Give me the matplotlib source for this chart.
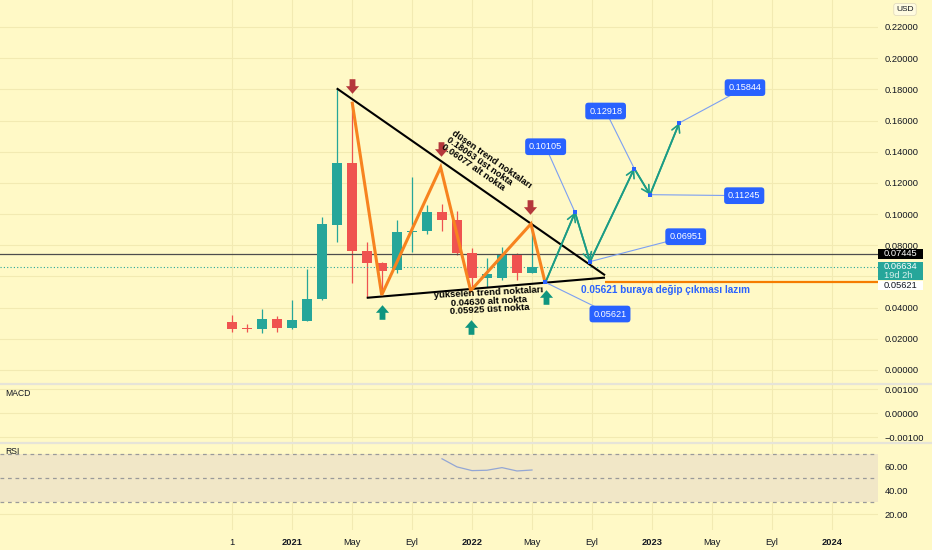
import matplotlib
matplotlib.use('Agg')
import matplotlib.pyplot as plt
import matplotlib.transforms as mtransforms
from matplotlib.path import Path
from matplotlib.lines import Line2D
from matplotlib.patches import Rectangle
import numpy as np

plt.rcParams['font.family'] = ['Liberation Sans', 'DejaVu Sans']

# ---------------- data ----------------
months = ['2020-09', '2020-10', '2020-11', '2020-12', '2021-01', '2021-02', '2021-03',
          '2021-04', '2021-05', '2021-06', '2021-07', '2021-08', '2021-09', '2021-10',
          '2021-11', '2021-12', '2022-01', '2022-02', '2022-03', '2022-04', '2022-05']
opens = [0.0306, 0.0268, 0.0261, 0.0327, 0.0267, 0.0317, 0.0454, 0.0930, 0.1326, 0.0765, 0.0684,
         0.0641, 0.0887, 0.0889, 0.1015, 0.0962, 0.0748, 0.0588, 0.0588, 0.0738, 0.0624]
highs = [0.0353, 0.0295, 0.0393, 0.0346, 0.0449, 0.0648, 0.0983, 0.1806, 0.1711, 0.0823, 0.0692,
         0.0962, 0.1240, 0.1058, 0.1065, 0.1020, 0.0780, 0.0717, 0.0787, 0.0748, 0.0936]
lows = [0.0244, 0.0244, 0.0237, 0.0244, 0.0265, 0.0316, 0.0449, 0.0823, 0.0560, 0.0466, 0.0500,
        0.0624, 0.0759, 0.0872, 0.0893, 0.0738, 0.0520, 0.0534, 0.0580, 0.0577, 0.0620]
closes = [0.0263, 0.0265, 0.0325, 0.0267, 0.0318, 0.0455, 0.0935, 0.1326, 0.0765, 0.0684, 0.0637,
          0.0887, 0.0893, 0.1012, 0.0962, 0.0752, 0.0588, 0.0616, 0.0738, 0.0620, 0.06634]

rsi_months = ['2021-11', '2021-12', '2022-01', '2022-02', '2022-03', '2022-04', '2022-05']
rsi_values = [66.3, 59.5, 56.4, 56.7, 58.9, 56.1, 56.9]

time_tick_labels = ['1', '2021', 'May', 'Eyl', '2022', 'May', 'Eyl', '2023', 'May', 'Eyl', '2024']
time_tick_months = ['2020-09', '2021-01', '2021-05', '2021-09', '2022-01', '2022-05', '2022-09',
                    '2023-01', '2023-05', '2023-09', '2024-01']
price_ticks = [0.00, 0.02, 0.04, 0.06, 0.08, 0.10, 0.12, 0.14, 0.16, 0.18, 0.20, 0.22]
macd_ticks = [0.001, 0.0, -0.001]
rsi_ticks = [20, 40, 60]

last_close = 0.06634
level_black = 0.07445
level_orange = 0.05621

# drawings (x in month-index units from 2020-09, y price)
desc_x = [6.98, 24.87]
desc_y = [0.18063, 0.06077]
asc_x = [8.98, 24.87]
asc_y = [0.04630, 0.05925]
zig_x = [8.02, 9.98, 13.91, 15.91, 19.93, 20.87]
zig_y = [0.1711, 0.0481, 0.1300, 0.0509, 0.0937, 0.05621]
proj_x = [20.90, 22.87, 23.87, 26.82, 27.87, 29.82]
proj_y = [0.05621, 0.10105, 0.06951, 0.12918, 0.11245, 0.15844]
label_texts = ['0.05621', '0.10105', '0.06951', '0.12918', '0.11245', '0.15844']
label_x = [25.20, 20.91, 30.25, 24.91, 34.15, 34.20]
label_y = [0.0359, 0.1432, 0.0855, 0.1661, 0.1118, 0.1811]
down_arrow_x = [8.0, 13.92, 19.87]
down_arrow_y = [0.1822, 0.1416, 0.1048]
up_arrow_x = [9.98, 15.92, 20.91]
up_arrow_y = [0.0374, 0.0278, 0.0466]

# ---------------- style ----------------
BG = '#fff9c6'
GRID = '#f2eab2'
UP = '#26a69a'
DOWN = '#ef5350'
TXT = '#131722'
AXFS = 6.7

W, H = 932, 550
fig = plt.figure(figsize=(W / 100, H / 100), dpi=100)
fig.patch.set_facecolor(BG)
RIGHT = 878


def rect(top, bottom):
    return [0, 1 - bottom / H, RIGHT / W, (bottom - top) / H]


ax = fig.add_axes(rect(0, 383))
axm = fig.add_axes(rect(384, 442))
axr = fig.add_axes(rect(443, 530))


def mi(m):
    y, mo = m.split('-')
    return (int(y) - 2020) * 12 + int(mo) - 9


x = np.array([mi(m) for m in months])
xt = [mi(m) for m in time_tick_months]
XL = (-15.47, 43.07)

for a in (ax, axm, axr):
    a.set_facecolor(BG)
    a.set_xlim(*XL)
    for s in a.spines.values():
        s.set_visible(False)
    a.yaxis.tick_right()
    a.tick_params(axis='y', length=0, pad=5, labelsize=AXFS, labelcolor=TXT)
    a.tick_params(axis='x', length=0)
    a.set_xticks(xt)
    for v in xt:
        a.axvline(v, color=GRID, lw=0.8, zorder=0)

ax.set_ylim(-0.00834, 0.2373)
ax.set_yticks(price_ticks)
ax.set_yticklabels(['' if abs(p - 0.06) < 1e-9 else f'{p:.5f}' for p in price_ticks])
for p in price_ticks:
    ax.axhline(p, color=GRID, lw=0.8, zorder=0)
ax.set_xticklabels([])

axm.set_ylim(-0.001194, 0.001207)
axm.set_yticks(macd_ticks)
axm.set_yticklabels([f'{v:.5f}'.replace('-', '\u2212') for v in macd_ticks])
for v in macd_ticks:
    axm.axhline(v, color=GRID, lw=0.8, zorder=0)
axm.set_xticklabels([])

axr.set_ylim(6.7, 79.5)
axr.set_yticks(rsi_ticks)
axr.set_yticklabels([f'{v:.2f}' for v in rsi_ticks])
for v in rsi_ticks:
    axr.axhline(v, color=GRID, lw=0.8, zorder=0)
axr.axhspan(30, 70, color='#f1e7c7', zorder=0.5, lw=0)
for v in (70, 50, 30):
    axr.axhline(v, color='#9a9a9a', lw=0.9, ls=(0, (3, 3)), zorder=1)
rx = [mi(m) for m in rsi_months]
axr.plot(rx, rsi_values, color='#93a6d4', lw=0.9, zorder=2)
axr.set_xticklabels(time_tick_labels)
axr.tick_params(axis='x', pad=6, labelsize=AXFS, labelcolor=TXT)
for lab in axr.get_xticklabels():
    if lab.get_text().isdigit() and len(lab.get_text()) == 4:
        lab.set_fontweight('bold')

# separators
for yy in (383.5, 442.5):
    fig.add_artist(Line2D([0, 1], [1 - yy / H, 1 - yy / H], color='#e6e4d8', lw=1.6))

axm.text(5.7 / RIGHT, 0.84, 'MACD', transform=axm.transAxes, fontsize=6.2, color=TXT, va='center')
axr.text(5.7 / RIGHT, 0.905, 'RSI', transform=axr.transAxes, fontsize=6.2, color=TXT, va='center')

# ---------------- candles ----------------
o = np.array(opens); c = np.array(closes); hi = np.array(highs); lo = np.array(lows)
cols = [UP if cc >= oo else DOWN for oo, cc in zip(o, c)]
ax.vlines(x, lo, hi, colors=cols, lw=0.9, zorder=2)
body_b = np.minimum(o, c)
body_h = np.maximum(np.abs(c - o), 0.0006)
ax.bar(x, body_h, bottom=body_b, width=0.72, color=cols, lw=0, zorder=3)

# ---------------- horizontal levels ----------------
ax.axhline(level_black, color='#4d4d4d', lw=0.9, zorder=2.5)
ax.axhline(last_close, color=UP, lw=0.8, ls=(0, (1, 2)), zorder=2.5)
ax.hlines(level_orange, desc_x[1], XL[1], color='#f57c00', lw=1.6, zorder=2.5)

# ---------------- trendlines ----------------
ax.plot(desc_x, desc_y, color='black', lw=1.5, zorder=4, solid_capstyle='butt')
ax.plot(asc_x, asc_y, color='black', lw=1.5, zorder=4, solid_capstyle='butt')
ax.plot(zig_x, zig_y, color='#f7831f', lw=2.2, zorder=5, solid_joinstyle='miter')

# projection path with arrowheads
TEAL = '#1b9c85'
ax.plot(proj_x, proj_y, color=TEAL, lw=1.3, zorder=5)
for i in range(len(proj_x) - 1):
    ax.annotate('', xy=(proj_x[i + 1], proj_y[i + 1]), xytext=(proj_x[i], proj_y[i]),
                arrowprops=dict(arrowstyle='->,head_length=0.45,head_width=0.25', color=TEAL, lw=1.2,
                                shrinkA=0, shrinkB=0, mutation_scale=12), zorder=5)

# blue callouts
BLUE = '#2962ff'
for t, lx, ly in zip(label_texts, label_x, label_y):
    j = label_texts.index(t)
    px, py = proj_x[j], proj_y[j]
    ax.plot([px, lx], [py, ly], color='#7c9ff2', lw=0.8, zorder=6)
    ax.plot([px], [py], marker='s', ms=2.2, color=BLUE, zorder=6.5, mew=0)
    ax.text(lx, ly, t, fontsize=6.6, color='white', ha='center', va='center', zorder=7,
            bbox=dict(boxstyle='round,pad=0.42,rounding_size=0.35', fc=BLUE, ec='none'))

# block arrows
down_path = Path([(-0.2, 0.5), (0.2, 0.5), (0.2, 0.02), (0.45, 0.02), (0.0, -0.5), (-0.45, 0.02),
                  (-0.2, 0.02), (-0.2, 0.5)], closed=True)
up_path = Path([(vx, -vy) for vx, vy in down_path.vertices], closed=True)
ax.plot(down_arrow_x, down_arrow_y, ls='none', marker=down_path, ms=10.5, color='#b5373b', mew=0, zorder=6)
ax.plot(up_arrow_x, up_arrow_y, ls='none', marker=up_path, ms=10.5, color='#0f957f', mew=0, zorder=6)

# texts
ax.text(16.95, 0.1308, 'düşen trend noktaları\n0.18063 üst nokta\n0.06077 alt nokta', rotation=-34.8,
        rotation_mode='anchor', ha='center', va='center', multialignment='left', fontsize=6.7,
        fontweight='bold', color='black', zorder=7, linespacing=0.95)
ax.text(17.13, 0.0441, 'yükselen trend noktaları\n0.04630 alt nokta\n0.05925 üst nokta', rotation=3,
        rotation_mode='anchor', ha='center', va='center', multialignment='center', fontsize=6.8,
        fontweight='bold', color='black', zorder=7, linespacing=0.95)
ax.text(23.27, 0.0513, '0.05621 buraya değip çıkması lazım', ha='left', va='center', fontsize=7.2,
        fontweight='bold', color=BLUE, zorder=7)

# price-axis tags
blend = mtransforms.blended_transform_factory(ax.transAxes, ax.transData)
dpp = (0.2373 + 0.00834) / 383.0
bw = 45 / RIGHT
tx = 1 + 6 / RIGHT

ax.add_patch(Rectangle((1.0, level_black - 5 * dpp), bw, 10 * dpp, transform=blend, fc='black', ec='none',
                       clip_on=False, zorder=8))
ax.text(tx, level_black, '0.07445', transform=blend, fontsize=AXFS, color='white', va='center', ha='left',
        clip_on=False, zorder=9)
ax.add_patch(Rectangle((1.0, last_close - 13.8 * dpp), bw, 18.5 * dpp, transform=blend, fc=UP, ec='none',
                       clip_on=False, zorder=8))
ax.text(tx, last_close, '0.06634', transform=blend, fontsize=AXFS, color='white', va='center', ha='left',
        clip_on=False, zorder=9)
ax.text(tx, last_close - 8.7 * dpp, '19d 2h', transform=blend, fontsize=AXFS, color='#d9f2ee', va='center',
        ha='left', clip_on=False, zorder=9)
ax.add_patch(Rectangle((1.0, level_orange - 7.8 * dpp), bw, 9.5 * dpp, transform=blend, fc='white',
                       ec='none', clip_on=False, zorder=8))
ax.text(tx, level_orange - 3.0 * dpp, '0.05621', transform=blend, fontsize=AXFS, color=TXT, va='center',
        ha='left', clip_on=False, zorder=9)

fig.text(905 / W, 1 - 9.5 / H, 'USD', fontsize=6.0, color=TXT, ha='center', va='center',
         bbox=dict(boxstyle='round,pad=0.3,rounding_size=0.3', fc='#fffbe0', ec='#e3dcc0', lw=0.6))

fig.savefig('out.png', dpi=100, facecolor=BG)
